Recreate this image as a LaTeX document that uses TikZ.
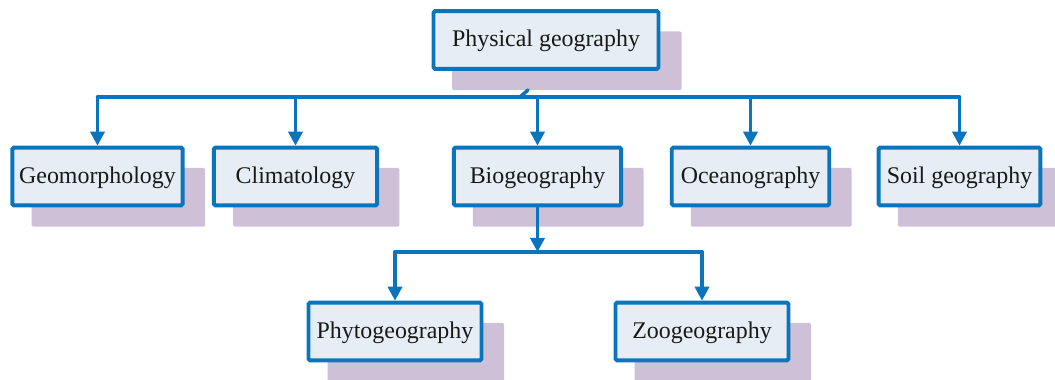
\documentclass[tikz,border=0pt]{standalone}
\usepackage{fontspec}
\setmainfont{Liberation Serif}
\usetikzlibrary{positioning}
\usetikzlibrary{arrows.meta}
\usetikzlibrary{shadows}
\definecolor{BLUE}{HTML}{0A74BC}
\definecolor{BOXFILL}{HTML}{E6EDF4}
\definecolor{SHADE}{HTML}{CEC1D7}
\tikzset{
	every node/.style = {font=\fontsize{17}{20}\selectfont},
	topic/.style = {draw=BLUE, fill=BOXFILL, line width=2.8pt, rounded corners=1pt,
	                minimum height=41pt, inner sep=2pt, text=black!90, text depth=2pt,
	                drop shadow={shadow xshift=14.5pt, shadow yshift=-14.5pt, shadow scale=1.02, fill=SHADE, opacity=1}},
	link/.style = {draw=BLUE, line width=2.5pt, line cap=round, line join=round},
	tip/.style = {link, -{Triangle[width=10pt,length=10pt]}}
}

\begin{document}
\begin{tikzpicture}[x=0.025cm, y=-0.025cm]
		\useasboundingbox (0,0) rectangle (1055,380);
		% top
		\node[topic, minimum width=160pt] (phys) at (546,40) {Physical geography};
		% first row
		\node[topic, minimum width=121pt] (geo) at (97.5,176.5) {Geomorphology};
		\node[topic, minimum width=116pt] (clim) at (295.5,176.5) {Climatology};
		\node[topic, minimum width=119pt] (bio) at (537.5,176.5) {Biogeography};
		\node[topic, minimum width=112pt] (ocean) at (750.5,176.5) {Oceanography};
		\node[topic, minimum width=115pt] (soil) at (959.5,176.5) {Soil geography};
		% second row
		\node[topic, minimum width=123pt] (phyto) at (395,331.5) {Phytogeography};
		\node[topic, minimum width=123pt] (zoo) at (702,331.5) {Zoogeography};
		% bars
		\coordinate (bar) at (0,97);
		\coordinate (barB) at (0,252);
		\draw[link] (geo.north |- bar) -- (soil.north |- bar);
		\draw[link] (520,97) -- (528,90);
		\foreach \n in {geo, clim, bio, ocean, soil}
			\draw[tip] (\n.north |- bar) -- (\n.north);
		\draw[tip] (bio.south) -- (bio.south |- barB);
		\draw[link] (phyto.north |- barB) -- (zoo.north |- barB);
		\foreach \n in {phyto, zoo}
			\draw[tip] (\n.north |- barB) -- (\n.north);
	\end{tikzpicture}
\end{document}
